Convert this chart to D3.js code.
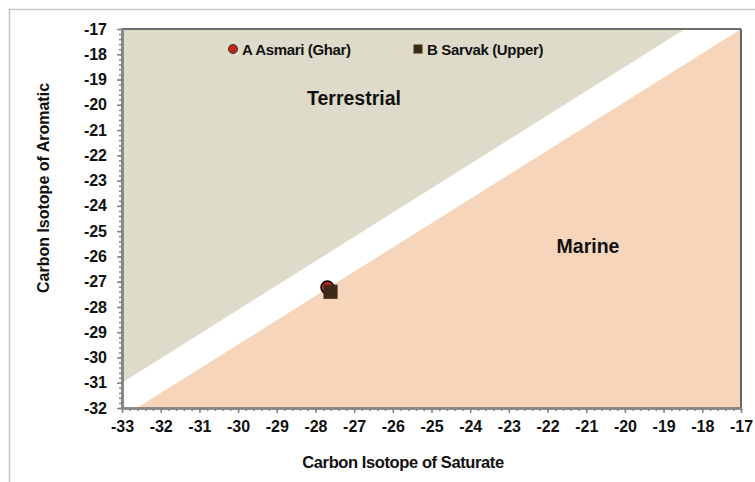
<!DOCTYPE html>
<html>
<head>
<meta charset="utf-8">
<script src="https://cdn.jsdelivr.net/npm/d3@7/dist/d3.min.js"></script>
<style>
  html, body { margin: 0; padding: 0; background: #fff; }
  svg { display: block; font-family: "Liberation Sans", Arial, sans-serif; }
</style>
</head>
<body>
<svg id="chart" width="755" height="482"></svg>
<script>
// Samples (carbon isotope ratios, per mil)
const sampleNames = ["A Asmari (Ghar)", "B Sarvak (Upper)"];
const saturateValues = [-27.69, -27.61];
const aromaticValues = [-27.23, -27.40];
const sampleShapes = ["circle", "square"];
const sampleColors = ["#c4231b", "#3d2b16"];

// Field boundaries (saturate, aromatic)
const terrestrialField = [[-33, -31], [-18.45, -17], [-33, -17]];
const marineField = [[-32.62, -32], [-17, -17], [-17, -32]];

// Axis ticks
const xTicks = d3.range(-33, -16, 1);
const yTicks = d3.range(-32, -16, 1);

const svg = d3.select("#chart");
const x = d3.scaleLinear().domain([-33, -17]).range([122, 741]);
const y = d3.scaleLinear().domain([-32, -17]).range([408, 29]);

// outer chart frame
svg.append("path")
  .attr("d", "M9.5,482 L9.5,9.5 L755,9.5")
  .attr("fill", "none").attr("stroke", "#c6c6c6").attr("stroke-width", 1.5);

// plot background
svg.append("rect")
  .attr("x", x(-33)).attr("y", y(-17))
  .attr("width", x(-17) - x(-33)).attr("height", y(-32) - y(-17))
  .attr("fill", "#ffffff");

const area = d3.line().x(d => x(d[0])).y(d => y(d[1]));
svg.append("path").attr("d", area(terrestrialField) + "Z").attr("fill", "#dedbcb");
svg.append("path").attr("d", area(marineField) + "Z").attr("fill", "#f7d5ba");

// plot frame top and right
svg.append("line").attr("x1", x(-33)).attr("x2", x(-17)).attr("y1", y(-17)).attr("y2", y(-17))
  .attr("stroke", "#6e6e6e").attr("stroke-width", 2);
svg.append("line").attr("x1", x(-17)).attr("x2", x(-17)).attr("y1", y(-17)).attr("y2", y(-32))
  .attr("stroke", "#3a3a3a").attr("stroke-width", 1.5);

// field names
svg.append("text").attr("x", 354).attr("y", 105).attr("text-anchor", "middle")
  .attr("font-size", 19.5).attr("font-weight", "bold").attr("fill", "#111").text("Terrestrial");
svg.append("text").attr("x", 588).attr("y", 253).attr("text-anchor", "middle")
  .attr("font-size", 19.5).attr("font-weight", "bold").attr("fill", "#111").text("Marine");

// axes
const axisColor = "#858585";
const minorX = d3.range(-33, -16.99, 0.2);
const minorY = d3.range(-32, -16.99, 0.2);
const plain = d => String(d);

const gxMinor = svg.append("g").attr("transform", `translate(0,${y(-32)})`)
  .call(d3.axisBottom(x).tickValues(minorX).tickSize(3).tickSizeOuter(0).tickFormat(""));
const gyMinor = svg.append("g").attr("transform", `translate(${x(-33)},0)`)
  .call(d3.axisLeft(y).tickValues(minorY).tickSize(3).tickSizeOuter(0).tickFormat(""));

const gx = svg.append("g").attr("transform", `translate(0,${y(-32)})`)
  .call(d3.axisBottom(x).tickValues(xTicks).tickSize(5).tickSizeOuter(0).tickPadding(8).tickFormat(plain));
const gy = svg.append("g").attr("transform", `translate(${x(-33)},0)`)
  .call(d3.axisLeft(y).tickValues(yTicks).tickSize(5).tickSizeOuter(0).tickPadding(10).tickFormat(plain));

[gxMinor, gyMinor, gx, gy].forEach(g => {
  g.selectAll(".tick line").attr("stroke", axisColor).attr("stroke-width", 1.5);
  g.select(".domain").attr("stroke", axisColor).attr("stroke-width", 2.5);
  g.selectAll("text").attr("font-size", 16).attr("font-weight", "bold")
    .attr("fill", "#111").attr("font-family", "'Liberation Sans', Arial, sans-serif");
});
gx.selectAll("text").attr("dy", "0.71em");

// axis titles
svg.append("text").attr("x", 403).attr("y", 468).attr("text-anchor", "middle")
  .attr("font-size", 16.5).attr("font-weight", "bold").attr("fill", "#111")
  .attr("letter-spacing", -0.4).text("Carbon Isotope of Saturate");
svg.append("text").attr("transform", "translate(49,188) rotate(-90)").attr("text-anchor", "middle")
  .attr("font-size", 16).attr("font-weight", "bold").attr("fill", "#111")
  .text("Carbon Isotope of Aromatic");

// sample points
const samples = sampleNames.map((n, i) => ({
  name: n, sat: saturateValues[i], aro: aromaticValues[i], shape: sampleShapes[i], color: sampleColors[i]
}));
const symbolOf = s => s === "circle" ? d3.symbolCircle : d3.symbolSquare;

svg.append("g").selectAll("path").data(samples).join("path")
  .attr("transform", d => `translate(${x(d.sat)},${y(d.aro)})`)
  .attr("d", d => d3.symbol(symbolOf(d.shape), d.shape === "circle" ? 130 : 200)())
  .attr("fill", d => d.color)
  .attr("stroke", d => d.shape === "circle" ? "#000" : "none")
  .attr("stroke-width", 1.5);

// legend
const legendX = [233, 418];
const legend = svg.append("g").selectAll("g").data(samples).join("g")
  .attr("transform", (d, i) => `translate(${legendX[i]},49)`);
legend.append("path")
  .attr("d", d => d3.symbol(symbolOf(d.shape), d.shape === "circle" ? 64 : 81)())
  .attr("fill", d => d.color)
  .attr("stroke", d => d.shape === "circle" ? "#333" : "none");
legend.append("text").attr("x", 9).attr("y", 5.5)
  .attr("font-size", 15).attr("font-weight", "bold").attr("fill", "#111").attr("letter-spacing", -0.35)
  .text(d => d.name);
</script>
</body>
</html>
